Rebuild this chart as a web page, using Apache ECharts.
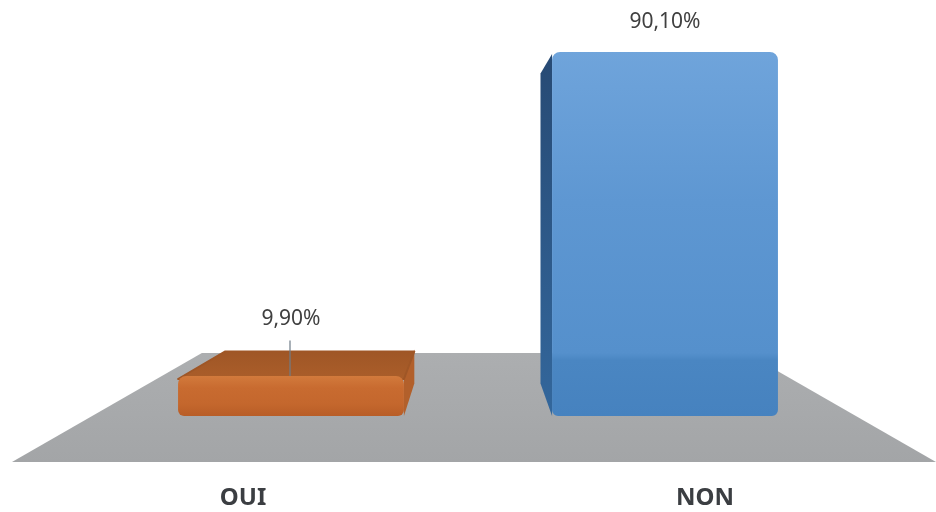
<!DOCTYPE html>
<html>
<head>
<meta charset="utf-8">
<script src="https://cdn.jsdelivr.net/npm/echarts@6/dist/echarts.min.js"></script>
<style>
  html, body { margin: 0; padding: 0; background: #ffffff; }
  #chart { width: 936px; height: 512px; }
</style>
</head>
<body>
<div id="chart"></div>
<script>
// Survey answers and their shares (percent)
const categories = ['OUI', 'NON'];
const shares = [9.9, 90.1];

// Perspective set-up for the pseudo-3D scene
const VP_X = 474;          // vanishing point, x
const VP_Y = 197;          // vanishing point, y
const BAR_DEPTH = 0.852;   // back face scale of a bar relative to its front face
const FLOOR_DEPTH = 0.589; // back edge scale of the floor relative to its front edge
const BAR_RATIO = 0.604;   // bar width as a share of the category band

const palettes = [
  { // orange
    front: ['#d27a3c', '#c86b30', '#c4672d', '#b85d27'],
    top: ['#9f5626', '#ab5e2a'],
    side: '#b2602b'
  },
  { // blue
    front: ['#6fa4db', '#5e97d2', '#5590cc', '#4a86c2', '#4682bf'],
    top: ['#5a8fc9', '#5a8fc9'],
    side: ['#274a74', '#33679c']
  }
];

const chart = echarts.init(document.getElementById('chart'), null, { renderer: 'canvas' });

function toBack(x, y, s) {
  return [VP_X + (x - VP_X) * s, VP_Y + (y - VP_Y) * s];
}

function fmt(v) {
  return v.toFixed(2).replace('.', ',') + '%';
}

// Grey floor plane under the bars, projected from the category axis front edge
function renderFloor(params, api) {
  const cs = params.coordSys;
  const fy = api.coord([0, 0])[1];
  const xl = cs.x, xr = cs.x + cs.width;
  const bl = toBack(xl, fy, FLOOR_DEPTH);
  const br = toBack(xr, fy, FLOOR_DEPTH);
  return {
    type: 'polygon',
    shape: { points: [[xl, fy], [xr, fy], br, bl] },
    style: {
      fill: new echarts.graphic.LinearGradient(0, 0, 0, 1, [
        { offset: 0, color: '#acaeb0' },
        { offset: 1, color: '#a3a5a7' }
      ])
    },
    silent: true
  };
}

// One bar drawn as a box: visible side face, top face, then the front face
function renderBar(params, api) {
  const i = params.dataIndex;
  const pal = palettes[i];
  const v = api.value(1);
  const base = api.coord([api.value(0), 0]);
  const top = api.coord([api.value(0), v]);
  const w = api.size([1, 0])[0] * BAR_RATIO;
  const x0 = base[0] - w / 2, x1 = base[0] + w / 2;
  const yb = base[1], yt = top[1];
  const cx = base[0];
  const children = [];

  const floorY = chart.getHeight() - 50;
  const floorBackY = toBack(0, floorY, FLOOR_DEPTH)[1];

  if (x1 < VP_X) {
    children.push({
      type: 'polygon',
      shape: { points: [[x1, yt], toBack(x1, yt, BAR_DEPTH), toBack(x1, yb, BAR_DEPTH), [x1, yb]] },
      style: { fill: pal.side }
    });
  }
  if (x0 > VP_X) {
    children.push({
      type: 'polygon',
      shape: { points: [[x0, yt + 2], toBack(x0, yt, BAR_DEPTH), toBack(x0, yb, BAR_DEPTH), [x0, yb]] },
      style: {
        fill: new echarts.graphic.LinearGradient(0, 0, 0, 1, [
          { offset: 0, color: pal.side[0] },
          { offset: 1, color: pal.side[1] }
        ])
      }
    });
  }
  const backTop = toBack(cx, yt, BAR_DEPTH)[1];
  if (yt > VP_Y) {
    const bl = toBack(x0, yt, BAR_DEPTH), br = toBack(x1, yt, BAR_DEPTH);
    children.push({
      type: 'polygon',
      shape: { points: [[x0, yt + 3], [x1, yt + 3], [br[0], br[1] + 2], [bl[0] + 3, bl[1] + 2]] },
      style: {
        fill: new echarts.graphic.LinearGradient(0, 0, 0, 1, [
          { offset: 0, color: pal.top[0] },
          { offset: 1, color: pal.top[1] }
        ]),
        lineJoin: 'round',
        stroke: pal.top[0],
        lineWidth: 2
      }
    });
  }

  // Front face; the lower part darkens below the floor's back edge
  let stops;
  if (pal.front.length === 5) {
    const s = Math.min(0.999, Math.max(0.001, (floorBackY - yt) / (yb - yt)));
    stops = [
      { offset: 0, color: pal.front[0] },
      { offset: s * 0.5, color: pal.front[1] },
      { offset: s, color: pal.front[2] },
      { offset: Math.min(1, s + 0.02), color: pal.front[3] },
      { offset: 1, color: pal.front[4] }
    ];
  } else {
    stops = [
      { offset: 0, color: pal.front[0] },
      { offset: 0.3, color: pal.front[1] },
      { offset: 0.7, color: pal.front[2] },
      { offset: 1, color: pal.front[3] }
    ];
  }
  children.push({
    type: 'rect',
    shape: { x: x0, y: yt, width: x1 - x0, height: yb - yt, r: [8, 8, 6, 6] },
    style: { fill: new echarts.graphic.LinearGradient(0, 0, 0, 1, stops) }
  });

  // Value label above the bar, with a leader line when it sits above a visible top face
  const labelY = Math.min(yt, backTop) - 30;
  if (yt - backTop > 10) {
    children.push({
      type: 'line',
      shape: { x1: cx - 1, y1: labelY + 21, x2: cx - 1, y2: yt },
      style: { stroke: '#6f7c88', lineWidth: 1.2 }
    });
  }
  children.push({
    type: 'text',
    x: cx,
    y: labelY,
    style: {
      text: fmt(v),
      align: 'center',
      verticalAlign: 'middle',
      fontFamily: 'Noto Sans',
      fontSize: 21,
      fill: '#404040'
    }
  });

  return { type: 'group', children: children };
}

const option = {
  backgroundColor: '#ffffff',
  animation: false,
  grid: [
    { left: 12, right: 0, top: 12, bottom: 50 },   // floor front plane, carries the category labels
    { left: 104, right: 84, top: 12, bottom: 96 }   // bar front plane
  ],
  xAxis: [
    {
      type: 'category', gridIndex: 0, data: categories,
      axisLine: { show: false }, axisTick: { show: false }, splitLine: { show: false },
      axisLabel: {
        margin: 24, fontFamily: 'Noto Sans', fontWeight: 'bold', fontSize: 24,
        lineHeight: 24, color: '#3b3e42'
      }
    },
    {
      type: 'category', gridIndex: 1, data: categories, show: false
    }
  ],
  yAxis: [
    { type: 'value', gridIndex: 0, min: 0, max: 100, show: false },
    { type: 'value', gridIndex: 1, min: 0, max: 100, show: false }
  ],
  series: [
    {
      name: 'floor', type: 'custom', xAxisIndex: 0, yAxisIndex: 0, z: 1,
      data: [[0, 0]], renderItem: renderFloor, silent: true
    },
    {
      name: 'share', type: 'custom', xAxisIndex: 1, yAxisIndex: 1, z: 2,
      data: categories.map((c, i) => [i, shares[i]]),
      renderItem: renderBar
    }
  ]
};

chart.setOption(option);
</script>
</body>
</html>
